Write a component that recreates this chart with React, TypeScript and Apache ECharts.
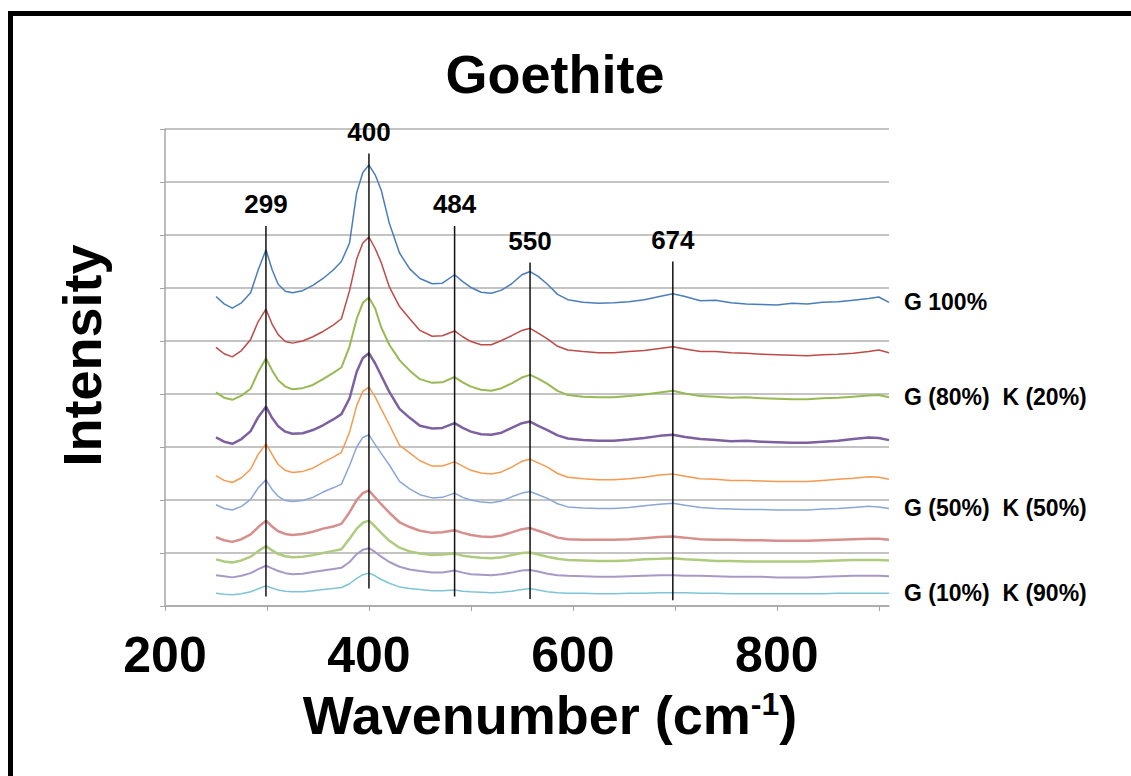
import React, { useEffect, useRef } from "react";
import * as echarts from "echarts";

const wavenumbers = [
  250, 258, 266, 275, 284, 291, 299, 305, 311, 318,
  325, 335, 345, 355, 365, 373, 381, 388, 394, 400,
  406, 412, 420, 430, 440, 450, 462, 472, 484, 492,
  500, 510, 520, 530, 540, 550, 558, 566, 575, 585,
  595, 610, 625, 640, 655, 670, 685, 698, 710, 725,
  740, 755, 770, 785, 800, 815, 830, 845, 860, 875,
  890, 900, 910,
];

const g100 = [
  5.84, 5.70, 5.62, 5.72, 5.91, 6.32, 6.72, 6.35, 6.07, 5.94,
  5.91, 5.95, 6.05, 6.18, 6.34, 6.50, 6.85, 7.80, 8.18, 8.32,
  8.14, 7.85, 7.22, 6.66, 6.36, 6.18, 6.08, 6.09, 6.25, 6.12,
  6.01, 5.92, 5.90, 5.96, 6.08, 6.25, 6.31, 6.22, 6.07, 5.88,
  5.78, 5.73, 5.71, 5.72, 5.74, 5.78, 5.84, 5.89, 5.84, 5.76,
  5.77, 5.72, 5.70, 5.69, 5.68, 5.71, 5.70, 5.73, 5.74, 5.77,
  5.80, 5.83, 5.73,
];
const g90 = [
  4.88, 4.76, 4.70, 4.82, 5.03, 5.35, 5.60, 5.32, 5.12, 4.99,
  4.96, 5.00, 5.08, 5.18, 5.30, 5.42, 5.95, 6.55, 6.85, 6.96,
  6.75, 6.48, 6.02, 5.65, 5.42, 5.20, 5.09, 5.10, 5.19, 5.08,
  4.99, 4.93, 4.93, 5.01, 5.10, 5.20, 5.24, 5.15, 5.04, 4.90,
  4.83, 4.80, 4.78, 4.78, 4.80, 4.82, 4.86, 4.89, 4.85, 4.80,
  4.80, 4.78, 4.77, 4.75, 4.74, 4.73, 4.72, 4.74, 4.75, 4.77,
  4.80, 4.83, 4.78,
];
const g80 = [
  4.03, 3.93, 3.89, 3.97, 4.10, 4.40, 4.67, 4.45, 4.26, 4.14,
  4.09, 4.11, 4.17, 4.28, 4.40, 4.50, 4.90, 5.42, 5.72, 5.82,
  5.62, 5.26, 4.93, 4.64, 4.44, 4.28, 4.21, 4.22, 4.32, 4.22,
  4.14, 4.08, 4.06, 4.11, 4.20, 4.31, 4.36, 4.29, 4.19, 4.06,
  3.98, 3.95, 3.94, 3.94, 3.96, 3.99, 4.03, 4.06, 4.01, 3.96,
  3.95, 3.93, 3.94, 3.92, 3.91, 3.90, 3.90, 3.92, 3.93, 3.95,
  3.97, 3.98, 3.94,
];
const g70 = [
  3.18, 3.10, 3.06, 3.15, 3.30, 3.55, 3.76, 3.55, 3.39, 3.29,
  3.25, 3.26, 3.32, 3.41, 3.52, 3.62, 3.92, 4.42, 4.68, 4.77,
  4.58, 4.35, 4.04, 3.72, 3.55, 3.40, 3.35, 3.36, 3.45, 3.36,
  3.29, 3.24, 3.23, 3.27, 3.36, 3.45, 3.48, 3.40, 3.32, 3.22,
  3.16, 3.13, 3.12, 3.12, 3.14, 3.17, 3.21, 3.23, 3.19, 3.15,
  3.13, 3.11, 3.12, 3.10, 3.09, 3.08, 3.08, 3.10, 3.12, 3.15,
  3.18, 3.17, 3.13,
];
const g60 = [
  2.46, 2.37, 2.33, 2.42, 2.58, 2.85, 3.06, 2.86, 2.67, 2.56,
  2.52, 2.54, 2.60, 2.71, 2.81, 2.90, 3.28, 3.78, 4.05, 4.13,
  3.95, 3.72, 3.42, 3.03, 2.89, 2.74, 2.64, 2.64, 2.72, 2.64,
  2.56, 2.51, 2.49, 2.53, 2.62, 2.73, 2.77, 2.70, 2.62, 2.50,
  2.43, 2.40, 2.38, 2.38, 2.40, 2.43, 2.47, 2.49, 2.45, 2.40,
  2.39, 2.37, 2.37, 2.36, 2.35, 2.35, 2.35, 2.37, 2.39, 2.41,
  2.44, 2.43, 2.39,
];
const g50 = [
  1.91, 1.84, 1.81, 1.88, 2.01, 2.22, 2.38, 2.20, 2.07, 1.99,
  1.97, 1.99, 2.05, 2.15, 2.23, 2.30, 2.65, 3.00, 3.18, 3.23,
  3.05, 2.88, 2.66, 2.35, 2.21, 2.10, 2.04, 2.05, 2.13, 2.05,
  2.00, 1.96, 1.95, 1.98, 2.06, 2.13, 2.16, 2.10, 2.03, 1.93,
  1.87, 1.85, 1.84, 1.84, 1.86, 1.89, 1.92, 1.94, 1.90, 1.86,
  1.84, 1.83, 1.82, 1.82, 1.81, 1.81, 1.81, 1.83, 1.84, 1.86,
  1.88, 1.87, 1.84,
];
const g40 = [
  1.30, 1.24, 1.21, 1.26, 1.35, 1.48, 1.61, 1.50, 1.41, 1.36,
  1.34, 1.36, 1.40, 1.46, 1.50, 1.55, 1.77, 2.00, 2.13, 2.18,
  2.05, 1.92, 1.76, 1.58, 1.49, 1.42, 1.38, 1.39, 1.43, 1.38,
  1.34, 1.31, 1.30, 1.33, 1.39, 1.45, 1.47, 1.42, 1.36, 1.29,
  1.26, 1.25, 1.25, 1.25, 1.26, 1.28, 1.30, 1.31, 1.29, 1.26,
  1.25, 1.25, 1.24, 1.24, 1.23, 1.23, 1.23, 1.24, 1.25, 1.26,
  1.27, 1.27, 1.25,
];
const g30 = [
  0.88, 0.84, 0.82, 0.86, 0.93, 1.03, 1.13, 1.05, 0.98, 0.94,
  0.92, 0.93, 0.96, 1.00, 1.04, 1.07, 1.27, 1.46, 1.57, 1.61,
  1.50, 1.38, 1.23, 1.10, 1.03, 0.99, 0.96, 0.97, 0.99, 0.95,
  0.93, 0.91, 0.90, 0.92, 0.96, 1.00, 1.01, 0.97, 0.93, 0.89,
  0.87, 0.86, 0.85, 0.85, 0.86, 0.88, 0.89, 0.90, 0.88, 0.87,
  0.85, 0.85, 0.84, 0.84, 0.84, 0.84, 0.84, 0.85, 0.86, 0.87,
  0.87, 0.87, 0.86,
];
const g20 = [
  0.58, 0.56, 0.54, 0.57, 0.62, 0.69, 0.76, 0.71, 0.66, 0.62,
  0.60, 0.61, 0.64, 0.67, 0.70, 0.72, 0.83, 0.98, 1.06, 1.09,
  1.02, 0.93, 0.83, 0.74, 0.69, 0.66, 0.63, 0.63, 0.67, 0.63,
  0.60, 0.59, 0.58, 0.60, 0.63, 0.67, 0.68, 0.65, 0.61, 0.58,
  0.57, 0.56, 0.55, 0.55, 0.56, 0.57, 0.58, 0.58, 0.57, 0.57,
  0.56, 0.55, 0.55, 0.55, 0.54, 0.54, 0.54, 0.55, 0.56, 0.57,
  0.57, 0.57, 0.56,
];
const g10 = [
  0.24, 0.22, 0.21, 0.23, 0.27, 0.32, 0.38, 0.34, 0.30, 0.28,
  0.27, 0.27, 0.29, 0.31, 0.33, 0.35, 0.42, 0.52, 0.59, 0.62,
  0.57, 0.50, 0.43, 0.36, 0.33, 0.31, 0.29, 0.29, 0.30, 0.28,
  0.27, 0.26, 0.25, 0.26, 0.28, 0.31, 0.33, 0.30, 0.27, 0.25,
  0.24, 0.24, 0.23, 0.23, 0.24, 0.24, 0.25, 0.25, 0.25, 0.24,
  0.24, 0.23, 0.23, 0.23, 0.23, 0.23, 0.23, 0.23, 0.24, 0.24,
  0.24, 0.24, 0.24,
];

const spectra = [g100, g90, g80, g70, g60, g50, g40, g30, g20, g10];
const spectrumColors = [
  "#4a7ebb", "#be4b48", "#98b954", "#7d60a0", "#f59a52",
  "#8aa7d8", "#d68f8c", "#aecb7e", "#a898c8", "#7fc3d6",
];
const spectrumWidths = [1.5, 1.5, 2, 2.5, 1.5, 1.5, 2.5, 2.5, 2, 1.5];
const endLabels: (string | null)[] = [
  "G 100%", null, "G (80%)\u00a0 K (20%)", null, null,
  "G (50%)\u00a0 K (50%)", null, null, null, "G (10%)\u00a0 K (90%)",
];

const peakPositions = [299, 400, 484, 558, 698];
const peakLabels = ["299", "400", "484", "550", "674"];
const peakBottoms = [0.18, 0.33, 0.18, 0.13, 0.11];
const peakTops = [7.17, 8.54, 7.17, 6.48, 6.5];

const xTicks = [200, 300, 400, 500, 600, 700, 800, 900];
const xTickLabels = [200, 400, 600, 800];

const FONT = "'Liberation Sans', Arial, sans-serif";

export default function App() {
  const ref = useRef<HTMLDivElement>(null);

  useEffect(() => {
    if (!ref.current) return;
    const chart = echarts.init(ref.current, null, { renderer: "svg" });

    const spectrumSeries = spectra.map((vals, i) => ({
      type: "line",
      name: "s" + i,
      data: wavenumbers.map((x, j) => [x, vals[j]]),
      showSymbol: false,
      symbol: "none",
      lineStyle: { color: spectrumColors[i], width: spectrumWidths[i] },
      itemStyle: { color: spectrumColors[i] },
      z: 3,
      endLabel: endLabels[i]
        ? {
            show: true,
            formatter: endLabels[i] as string,
            color: "#000",
            fontFamily: FONT,
            fontWeight: "bold",
            fontSize: 23,
            distance: 15,
          }
        : { show: false },
    }));

    const peakSeries = peakPositions.map((p, i) => ({
      type: "line",
      name: "peak" + i,
      data: [
        [p, peakBottoms[i]],
        {
          value: [p, peakTops[i]],
          label: {
            show: true,
            position: "top",
            distance: 8,
            formatter: peakLabels[i],
            color: "#000",
            fontFamily: FONT,
            fontWeight: "bold",
            fontSize: 26,
          },
        },
      ],
      symbol: "circle",
      symbolSize: 1,
      showSymbol: true,
      itemStyle: { color: "transparent" },
      lineStyle: { color: "#111", width: 1.5 },
      z: 4,
    }));

    chart.setOption({
      animation: false,
      backgroundColor: "#fff",
      title: {
        text: "Goethite",
        left: 550,
        top: 42,
        textAlign: "center",
        textStyle: { fontFamily: FONT, fontWeight: "bold", fontSize: 54, color: "#000" },
      },
      grid: { left: 165, right: 242, top: 129, bottom: 170, containLabel: false },
      xAxis: {
        type: "value",
        min: 200,
        max: 910,
        interval: 100,
        name: "Wavenumber (cm{sup|-1}{n|)}",
        nameLocation: "middle",
        nameGap: 82,
        nameTextStyle: {
          fontFamily: FONT,
          fontWeight: "bold",
          fontSize: 54,
          color: "#000",
          padding: [0, 0, 0, 46],
          rich: {
            sup: { fontFamily: FONT, fontWeight: "bold", fontSize: 32, color: "#000", verticalAlign: "top", padding: [0, 0, 22, 0] },
            n: { fontFamily: FONT, fontWeight: "bold", fontSize: 54, color: "#000" },
          },
        },
        axisLine: { show: true, lineStyle: { color: "#a6a6a6", width: 1.5 } },
        axisTick: { show: true, length: 5, lineStyle: { color: "#a6a6a6" }, customValues: xTicks },
        axisLabel: {
          customValues: xTickLabels,
          margin: 24,
          fontFamily: FONT,
          fontWeight: "bold",
          fontSize: 50,
          color: "#000",
        },
        splitLine: { show: false },
      },
      yAxis: {
        type: "value",
        min: 0,
        max: 9,
        interval: 1,
        name: "Intensity",
        nameLocation: "middle",
        nameGap: 56,
        nameRotate: 90,
        nameTextStyle: {
          fontFamily: FONT,
          fontWeight: "bold",
          fontSize: 54,
          color: "#000",
          padding: [0, 0, 0, 24],
        },
        axisLine: { show: true, lineStyle: { color: "#a6a6a6", width: 1.5 } },
        axisTick: { show: true, length: 5, lineStyle: { color: "#a6a6a6" } },
        axisLabel: { show: false },
        splitLine: { show: true, lineStyle: { color: "#b0b0b0", width: 1.5 } },
      },
      graphic: [
        { type: "rect", left: 8, top: 11, shape: { width: 1123, height: 5 }, style: { fill: "#000" } },
        { type: "rect", left: 8, top: 11, shape: { width: 5, height: 765 }, style: { fill: "#000" } },
      ],
      series: [...spectrumSeries, ...peakSeries],
    });

    return () => chart.dispose();
  }, []);

  return (
    <div
      ref={ref}
      style={{ position: "fixed", left: 0, top: 0, width: 1131, height: 776, background: "#fff" }}
    />
  );
}
